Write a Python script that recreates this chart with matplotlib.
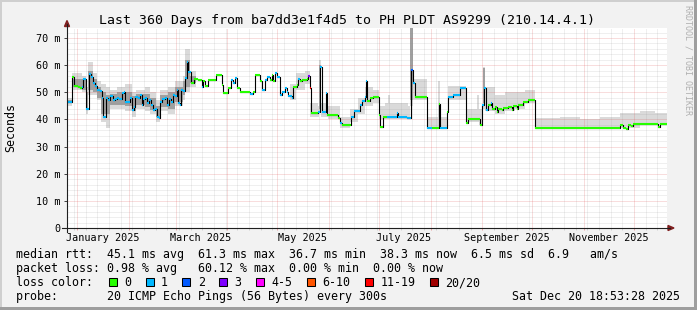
import matplotlib
matplotlib.use('Agg')
import matplotlib.pyplot as plt
from matplotlib.patches import Rectangle, Polygon
from matplotlib.lines import Line2D
from matplotlib.transforms import Affine2D, blended_transform_factory
import numpy as np
from datetime import datetime, timedelta

# ---- data (x = days since start of the 360 day window, y = ms) ----
med_day = [0.0, 3.0, 4.2, 6.6, 7.8, 9.0, 9.6, 11.4, 13.2, 14.4,
           15.6, 16.8, 18.0, 19.8, 21.0, 21.6, 23.4, 24.6, 25.8, 27.6,
           28.8, 30.0, 31.2, 33.0, 34.2, 34.8, 36.6, 37.8, 39.0, 40.2,
           40.8, 42.6, 43.8, 45.0, 45.6, 46.8, 48.0, 49.2, 50.4, 51.6,
           52.8, 54.0, 55.2, 55.8, 57.0, 58.8, 60.0, 61.2, 62.4, 63.6,
           64.8, 66.0, 66.6, 67.8, 68.4, 69.6, 70.8, 72.0, 72.6, 74.4,
           76.2, 78.6, 81.0, 81.6, 82.8, 84.6, 89.4, 93.0, 93.6, 96.6,
           98.4, 99.6, 100.8, 102.0, 103.8, 109.8, 111.6, 112.8, 115.8, 117.0,
           118.8, 120.0, 121.8, 123.0, 123.6, 124.8, 126.0, 127.8, 129.0, 130.8,
           132.0, 132.6, 135.0, 135.6, 138.0, 138.6, 139.8, 141.0, 144.0, 144.6,
           145.8, 146.4, 150.6, 151.8, 153.0, 155.4, 156.0, 162.6, 163.8, 165.0,
           170.4, 172.2, 175.8, 177.0, 178.8, 179.4, 180.0, 181.8, 183.6, 187.2,
           187.8, 189.6, 192.0, 198.0, 198.6, 204.0, 206.4, 207.6, 208.8, 216.0,
           219.0, 223.2, 223.8, 228.0, 228.6, 231.6, 235.8, 239.4, 240.6, 247.8,
           249.0, 250.2, 251.4, 252.6, 254.4, 255.0, 256.8, 258.0, 258.6, 261.0,
           261.6, 264.6, 267.0, 267.6, 270.0, 270.6, 273.6, 276.6, 280.8, 331.8,
           333.6, 335.4, 336.6, 338.4, 339.6, 346.8, 349.8, 354.6, 355.8, 360.0]
med_ms = [46.5, 55.5, 52.5, 52.0, 51.5, 52.0, 55.0, 44.0, 56.7, 55.5,
          53.5, 52.5, 51.0, 50.5, 48.0, 41.0, 48.0, 47.0, 48.5, 47.0,
          47.5, 48.0, 47.5, 49.6, 50.0, 46.5, 46.5, 48.0, 43.5, 44.5,
          48.4, 48.0, 49.0, 45.3, 47.5, 48.0, 46.0, 47.0, 45.5, 43.5,
          44.0, 41.0, 40.5, 46.5, 47.5, 48.0, 45.3, 47.5, 46.5, 49.0,
          48.5, 50.8, 46.0, 45.5, 50.8, 50.5, 55.2, 61.3, 57.6, 53.5,
          54.8, 54.5, 52.0, 54.3, 52.5, 54.5, 56.4, 52.7, 49.6, 51.5,
          54.5, 53.3, 55.2, 51.5, 50.2, 49.5, 50.2, 56.4, 54.0, 51.0,
          54.5, 55.8, 54.5, 56.4, 54.0, 57.0, 55.8, 49.0, 50.2, 51.5,
          50.2, 48.5, 48.0, 52.0, 52.7, 54.8, 54.0, 54.6, 55.0, 56.0,
          51.7, 42.3, 42.8, 59.5, 42.8, 49.6, 41.5, 40.6, 38.6, 37.8,
          41.0, 43.0, 45.3, 46.8, 48.4, 54.0, 46.8, 47.8, 48.2, 41.6,
          37.3, 41.0, 41.0, 42.3, 41.0, 40.4, 58.2, 53.5, 48.2, 36.7,
          36.7, 45.6, 36.8, 42.9, 48.4, 49.0, 51.5, 38.6, 40.3, 38.0,
          45.3, 51.5, 43.5, 45.3, 46.0, 44.0, 44.5, 42.9, 44.0, 43.5,
          44.2, 44.6, 43.5, 44.8, 44.0, 45.3, 46.6, 47.0, 37.0, 38.0,
          37.0, 36.5, 37.8, 37.5, 38.3, 38.5, 38.3, 37.3, 38.3, 38.3]
# index into loss_colors
med_loss = [1, 0, 0, 0, 0, 1, 1, 1, 1, 1,
            1, 1, 1, 1, 1, 1, 1, 1, 1, 1,
            1, 1, 1, 1, 1, 1, 1, 1, 1, 1,
            1, 1, 1, 1, 1, 1, 1, 1, 1, 1,
            1, 1, 1, 1, 1, 1, 1, 1, 1, 1,
            1, 1, 1, 1, 1, 1, 1, 1, 1, 0,
            0, 0, 1, 0, 0, 0, 0, 0, 0, 0,
            1, 1, 1, 0, 0, 1, 0, 0, 0, 1,
            1, 1, 0, 0, 0, 1, 1, 1, 1, 1,
            1, 1, 1, 0, 0, 1, 0, 0, 0, 3,
            6, 0, 1, 1, 1, 1, 0, 0, 1, 0,
            1, 1, 1, 1, 1, 1, 0, 0, 0, 0,
            0, 0, 1, 1, 1, 1, 2, 1, 0, 1,
            0, 0, 1, 0, 1, 1, 1, 0, 0, 0,
            1, 1, 1, 0, 1, 0, 0, 0, 0, 0,
            0, 0, 0, 0, 0, 0, 0, 0, 0, 0,
            0, 0, 0, 0, 0, 0, 0, 0, 0, 0]

smoke_day = [0.0, 3.0, 9.0, 11.4, 12.6, 15.6, 18.0, 20.4, 23.4, 25.8,
             30.0, 34.8, 39.0, 41.4, 46.8, 49.8, 53.4, 55.8, 60.6, 64.8,
             69.6, 70.8, 73.8, 77.4, 133.8, 137.4, 142.8, 145.8, 150.6, 151.2,
             152.4, 156.6, 163.8, 169.8, 174.6, 178.8, 183.6, 187.2, 190.8, 192.6,
             193.8, 204.6, 205.8, 207.6, 216.0, 222.6, 223.8, 228.6, 239.4, 246.0,
             247.2, 249.6, 250.8, 256.8, 262.8, 268.8, 274.8, 280.8, 295.8, 307.8,
             319.8, 331.8, 343.8, 352.8, 360.0]
smoke_lo = [45, 51, 50, 42, 49, 49, 47, 39, 37, 44,
            44, 43, 41, 44, 43, 42, 39, 43, 42, 45,
            47, 50, 52, 54, 47, 51, 53, 41, 41, 43,
            41, 40, 37, 39, 42, 45, 46, 40, 40, 40,
            40, 40, 45, 47, 36.5, 36.5, 36.5, 47, 39, 39,
            38, 44, 43, 42, 43, 44, 46, 37, 37, 37,
            37, 37, 38, 38, 38]
smoke_hi = [48, 57, 56, 52, 61, 57, 54, 53, 52, 51,
            52, 53, 50, 51, 52, 50, 47, 51, 52, 54,
            56, 66, 58, 54, 53, 57, 58, 46, 45, 62,
            46, 45, 41, 44, 48, 52, 51, 45, 46, 49,
            46, 45, 74, 55, 41, 54, 41, 52.5, 44, 49,
            44, 59.5, 52, 49, 50, 50, 51, 40.5, 41, 40,
            41, 42.5, 43, 42.5, 42.5]
core_lo = [46, 52, 51, 44, 51, 50, 48, 42, 42, 45.5,
           45.5, 45, 43, 45.5, 44.5, 43.5, 41, 44.5, 44, 46.5,
           49, 52, 53.5, 0, 0, 0, 0, 0, 0, 44,
           0, 0, 0, 0, 0, 0, 0, 0, 0, 0,
           0, 0, 47, 0, 0, 0, 0, 0, 0, 0,
           0, 46, 0, 0, 0, 0, 0, 0, 0, 0,
           0, 0, 0, 0, 0]
core_hi = [47, 55, 55, 50, 58, 55, 52, 50, 49, 49.5,
           50, 50, 48.5, 49.5, 49.5, 48, 45, 49, 50, 52,
           54, 62, 56, 0, 0, 0, 0, 0, 0, 60,
           0, 0, 0, 0, 0, 0, 0, 0, 0, 0,
           0, 0, 74, 0, 0, 0, 0, 0, 0, 0,
           0, 59, 0, 0, 0, 0, 0, 0, 0, 0,
           0, 0, 0, 0, 0]

loss_labels = ['0', '1', '2', '3', '4-5', '6-10', '11-19', '20/20']
loss_colors = ['#26ff00', '#00b8ff', '#0059ff', '#7e00ff',
               '#ff00ff', '#ff5500', '#ff0000', '#a10000']

y_ticks = [0, 10, 20, 30, 40, 50, 60, 70]
y_tick_labels = ['0', '10 m', '20 m', '30 m', '40 m', '50 m', '60 m', '70 m']
label_months = [1, 3, 5, 7, 9, 11]

title = 'Last 360 Days from ba7dd3e1f4d5 to PH PLDT AS9299 (210.14.4.1)'
row_rtt = 'median rtt:  45.1 ms avg  61.3 ms max  36.7 ms min  38.3 ms now  6.5 ms sd  6.9   am/s'
row_loss = 'packet loss: 0.98 % avg   60.12 % max  0.00 % min  0.00 % now'
row_probe = 'probe:       20 ICMP Echo Pings (56 Bytes) every 300s'
stamp = 'Sat Dec 20 18:53:28 2025'

# ---- layout ----
W, H = 697, 310
MONO = 'DejaVu Sans Mono'
end = datetime(2025, 12, 20, 18, 53, 28)
start = end - timedelta(days=360)


def day_of(d):
    return (d - start).total_seconds() / 86400.0


fig = plt.figure(figsize=(W / 100, H / 100), dpi=100, facecolor='#f2f2f2')
pix = Affine2D().scale(1.0 / W, -1.0 / H).translate(0, 1) + fig.transFigure

ax = fig.add_axes([67 / W, 1 - 228 / H, 600 / W, 200 / H])
ax.set_facecolor('white')
ax.set_xlim(0, 360)
ax.set_ylim(0, 200 / 2.714)
for s in ax.spines.values():
    s.set_visible(False)

month_days = [day_of(datetime(2025, m, 1)) for m in range(1, 13)]
week_days = []
d = datetime(2024, 12, 30)
while d < end:
    v = day_of(d)
    if 0 < v < 360 and d.day != 1:
        week_days.append(v)
    d += timedelta(weeks=1)

ax.set_xticks(month_days)
ax.set_xticks(week_days, minor=True)
ax.set_yticks(y_ticks)
ax.set_yticks([v for v in range(2, 74, 2) if v % 10], minor=True)
ax.set_yticklabels(y_tick_labels, family=MONO, fontsize=7.3)
ax.tick_params(axis='x', which='both', labelbottom=False, direction='out', length=1.5, width=0.7)
ax.tick_params(axis='x', which='major', color='#eaa0a0')
ax.tick_params(axis='x', which='minor', color='#d0d0d0')
ax.tick_params(axis='y', which='major', direction='out', length=2.2, width=0.7, color='#404040', pad=2.8)
ax.tick_params(axis='y', which='minor', length=0)
ax.set_axisbelow(False)
ax.grid(which='major', color='#de5050', alpha=0.38, lw=0.72, linestyle=(0, (1, 1)))
ax.grid(which='minor', color='#8f8f8f', alpha=0.28, lw=0.72, linestyle=(0, (1, 1)))

# smoke
ax.fill_between(smoke_day, smoke_lo, smoke_hi, step='post', color='#dadada', lw=0, zorder=1)
ax.fill_between(smoke_day, core_lo, core_hi, step='post', color='#a0a0a0', lw=0, zorder=1.2)

# median line
x = np.array(med_day)
y = np.array(med_ms)
ax.step(x, y, where='post', color='black', lw=0.8, zorder=3)
seg_colors = [loss_colors[k] for k in med_loss[:-1]]
ax.hlines(y[:-1], x[:-1], x[1:], colors=seg_colors, lw=1.5, zorder=4)

# x labels centred half a month after the month start
xt = blended_transform_factory(ax.transData, pix)
for m in label_months:
    dd = datetime(2025, m, 1)
    ax.text(day_of(dd) + 15, 241, dd.strftime('%B %Y'), transform=xt, ha='center',
            va='baseline', family=MONO, fontsize=7.3, clip_on=False)

# axes with arrows
fig.add_artist(Line2D([67, 67], [232, 24], color='#1f1f1f', lw=0.8, transform=pix))
fig.add_artist(Line2D([62, 670], [228, 228], color='#1f1f1f', lw=0.8, transform=pix))
fig.add_artist(Polygon([[64.5, 26.5], [69.5, 26.5], [67, 20.5]], closed=True,
                       color='#801f1f', transform=pix))
fig.add_artist(Polygon([[668, 225.5], [668, 230.5], [674, 228]], closed=True,
                       color='#801f1f', transform=pix))

# frame shading
fig.add_artist(Rectangle((0, 0), W, 2, color='#cfcfcf', lw=0, transform=pix))
fig.add_artist(Rectangle((0, 0), 2, H, color='#cfcfcf', lw=0, transform=pix))
fig.add_artist(Rectangle((0, H - 3), W, 3, color='#9e9e9e', lw=0, transform=pix))
fig.add_artist(Rectangle((W - 3, 0), 3, H, color='#9e9e9e', lw=0, transform=pix))

# texts
fig.text(347, 24, title, transform=pix, ha='center', va='baseline', family=MONO, fontsize=9.5)
fig.text(11, 128, 'Seconds', transform=pix, ha='center', va='center', rotation=90,
         family=MONO, fontsize=8.4)
fig.text(688, 5, 'RRDTOOL / TOBI OETIKER', transform=pix, ha='center', va='top', rotation=270,
         family=MONO, fontsize=6, color='#b0b0b0')

fig.text(16, 258, row_rtt, transform=pix, va='baseline', family=MONO, fontsize=8.4)
fig.text(16, 272, row_loss, transform=pix, va='baseline', family=MONO, fontsize=8.4)
fig.text(16, 286, 'loss color:', transform=pix, va='baseline', family=MONO, fontsize=8.4)
bx = 108.7
for lab, col in zip(loss_labels, loss_colors):
    fig.add_artist(Rectangle((bx, 278), 8, 8, facecolor=col, edgecolor='black', lw=0.75,
                             transform=pix))
    fig.text(bx + 15.3, 286, lab, transform=pix, va='baseline', family=MONO, fontsize=8.4)
    bx += 29.8 + 7.05 * len(lab)
fig.text(16, 300, row_probe, transform=pix, va='baseline', family=MONO, fontsize=8.4)
fig.text(680, 300, stamp, transform=pix, ha='right', va='baseline', family=MONO, fontsize=8.4)

fig.savefig('out.png', dpi=100, facecolor=fig.get_facecolor())
